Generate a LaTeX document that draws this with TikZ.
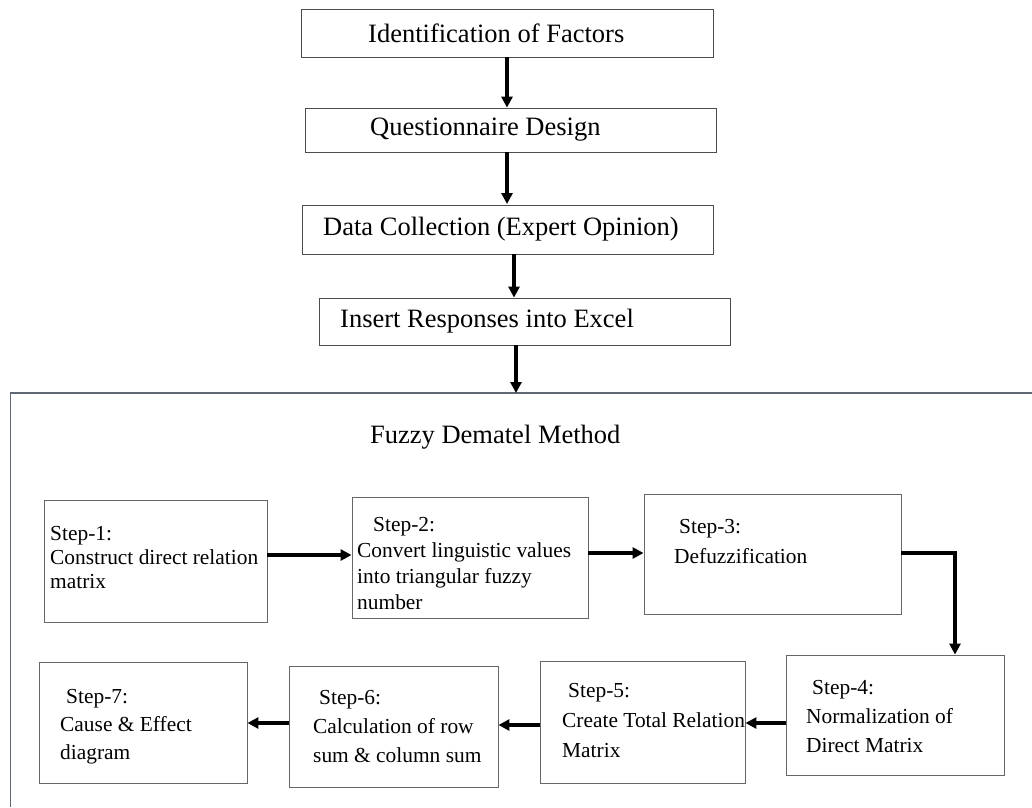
\documentclass[tikz,border=0pt]{standalone}
\usepackage{fontspec}
\setmainfont{Liberation Serif}
\usetikzlibrary{arrows.meta}
\definecolor{framecol}{RGB}{95,105,115}
\begin{document}
\begin{tikzpicture}[x=1pt,y=-1pt,
  topbox/.style={draw=black!70,line width=0.8pt,inner sep=0pt},
  stepbox/.style={draw=black!60,line width=0.9pt,inner sep=0pt},
  toptext/.style={anchor=west,inner sep=0pt,font=\fontsize{26.5}{30}\selectfont},
  steptext/.style={anchor=north west,inner sep=0pt,align=left,font=\fontsize{21.4}{28}\selectfont},
  arr/.style={line width=3.4pt,-{Triangle[length=11pt,width=11pt]}},
  frame/.style={draw=framecol,line width=1.4pt}]
\useasboundingbox (0,0) rectangle (1032,807);
% top boxes
\node[topbox,minimum width=412pt,minimum height=48pt] (b1) at (507,33) {};
\node[toptext] (t1) at (368,33) {Identification of Factors};
\node[topbox,minimum width=411pt,minimum height=44pt] (b2) at (510.5,130) {};
\node[toptext] (t2) at (370,130) {Questionnaire Design};
\node[topbox,minimum width=411pt,minimum height=49pt] (b3) at (507.5,229.5) {};
\node[toptext] (t3) at (323,229.5) {Data Collection (Expert Opinion)};
\node[topbox,minimum width=411pt,minimum height=47pt] (b4) at (524.5,321.5) {};
\node[toptext] (t4) at (340,321.5) {Insert Responses into Excel};
% frame
\coordinate (ftl) at (10.5,393);
\coordinate (ftr) at (1032,393);
\coordinate (fbl) at (10.5,807);
\draw[frame] (ftr) -- (ftl) -- (fbl);
\coordinate (a4end) at (516,393);
% arrows top
\draw[arr] (b1.south -| 507,0) -- (b2.north -| 507,0);
\draw[arr] (b2.south -| 507,0) -- (507,204);
\draw[arr] (b3.south -| 514,0) -- (b4.north -| 514,0);
\draw[arr] (b4.south -| 516,0) -- (a4end);
% title
\node[toptext] (title) at (370,437) {Fuzzy Dematel Method};
% step boxes
\node[stepbox,minimum width=223pt,minimum height=122pt] (s1) at (155.5,561) {};
\node[steptext,font=\fontsize{21.4}{24}\selectfont] (st1) at (50,526) {Step-1:\\Construct direct relation\\matrix};
\node[stepbox,minimum width=236pt,minimum height=121pt] (s2) at (470,557.5) {};
\node[steptext,font=\fontsize{21.4}{26}\selectfont] (st2) at (357,517) {\hspace{16pt}Step-2:\\Convert linguistic values\\into triangular fuzzy\\number};
\node[stepbox,minimum width=257pt,minimum height=120pt] (s3) at (772.5,554) {};
\node[steptext,font=\fontsize{21.4}{30}\selectfont] (st3) at (674,519) {\hspace{5pt}Step-3:\\Defuzzification};
\node[stepbox,minimum width=218pt,minimum height=120pt] (s4) at (895,715) {};
\node[steptext,font=\fontsize{21.4}{29}\selectfont] (st4) at (806,680) {\hspace{6pt}Step-4:\\Normalization of\\Direct Matrix};
\node[stepbox,minimum width=205pt,minimum height=122pt] (s5) at (642.5,722) {};
\node[steptext,font=\fontsize{21.4}{30}\selectfont] (st5) at (562,683) {\hspace{6pt}Step-5:\\Create Total Relation\\Matrix};
\node[stepbox,minimum width=209pt,minimum height=121pt] (s6) at (393.5,726.5) {};
\node[steptext,font=\fontsize{21.4}{29}\selectfont] (st6) at (313,690) {\hspace{6pt}Step-6:\\Calculation of row\\sum \& column sum};
\node[stepbox,minimum width=208pt,minimum height=121pt] (s7) at (143,722.5) {};
\node[steptext] (st7) at (60,689) {\hspace{6pt}Step-7:\\Cause \& Effect\\diagram};
% step arrows
\draw[arr] (s1.east |- 0,555) -- (s2.west |- 0,555);
\draw[arr] (s2.east |- 0,553) -- (s3.west |- 0,553);
\draw[arr] (s3.east |- 0,553) -| (s4.north -| 955,0);
\draw[arr] (s4.west |- 0,723) -- (s5.east |- 0,723);
\draw[arr] (s5.west |- 0,725) -- (s6.east |- 0,725);
\draw[arr] (s6.west |- 0,723) -- (s7.east |- 0,723);
\end{tikzpicture}
\end{document}
